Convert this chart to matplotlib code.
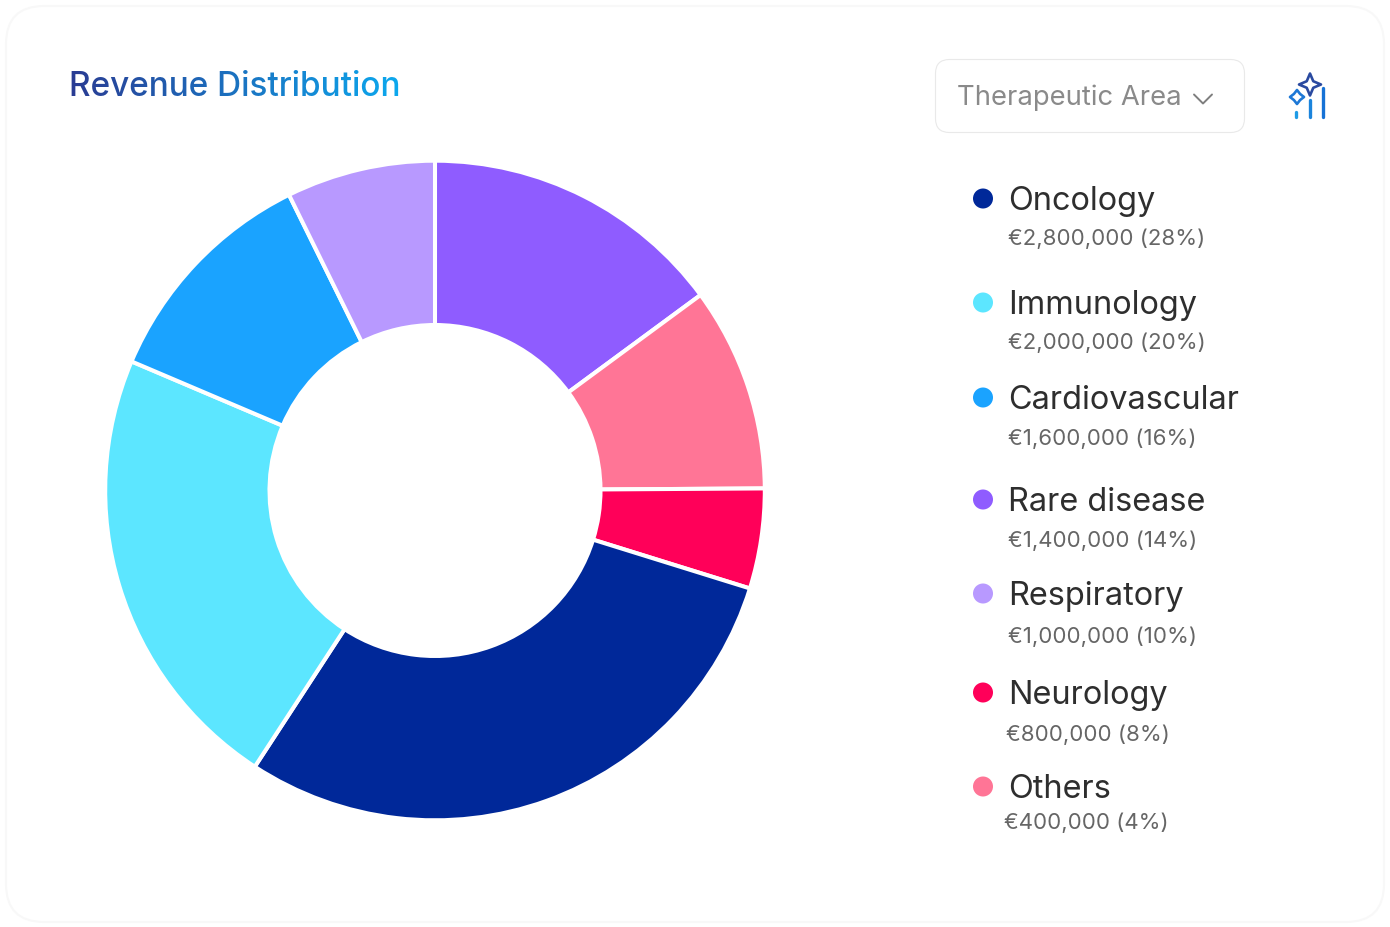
import numpy as np
import matplotlib
matplotlib.use("Agg")
import matplotlib.pyplot as plt
from matplotlib.patches import FancyBboxPatch, Circle, Polygon

plt.rcParams['font.family'] = ['Inter', 'DejaVu Sans']

# Data
categories = ['Oncology', 'Immunology', 'Cardiovascular', 'Rare disease', 'Respiratory', 'Neurology', 'Others']
legend_values = ['€2,800,000 (28%)', '€2,000,000 (20%)', '€1,600,000 (16%)', '€1,400,000 (14%)',
                 '€1,000,000 (10%)', '€800,000 (8%)', '€400,000 (4%)']
colors = ['#002899', '#5CE6FF', '#1AA3FF', '#8F5CFF', '#B899FF', '#FF0059', '#FF7596']
# slice shares as drawn in the picture (clockwise from 12 o'clock)
slice_order = ['Rare disease', 'Others', 'Neurology', 'Oncology', 'Immunology', 'Cardiovascular', 'Respiratory']
slice_shares = [14.9, 10.0, 4.9, 29.4, 22.2, 11.3, 7.3]

W, H = 1390, 928
fig = plt.figure(figsize=(W / 100, H / 100), dpi=100, facecolor='white')

bg = fig.add_axes([0, 0, 1, 1])
bg.set_xlim(0, W); bg.set_ylim(H - 1, -1); bg.axis('off')

bg.add_patch(FancyBboxPatch((6, 6), 1378, 916, boxstyle='round,pad=0,rounding_size=38',
                            fc='white', ec='#F8F8F8', lw=1.5))

# Title with gradient, kept as one text
def gradient_filter(img, dpi):
    out = img.copy()
    c0 = np.array([0x2A, 0x3C, 0x93]) / 255
    c1 = np.array([0x0C, 0xA8, 0xEE]) / 255
    t = np.linspace(0, 1, img.shape[1])[:, None]
    grad = c0 * (1 - t) + c1 * t
    out[..., :3] = grad[None, :, :]
    return out, 0, 0

title = bg.text(69, 85.5, 'Revenue Distribution', fontsize=24, fontweight='medium',
                va='center', ha='left', color='black')
title.set_agg_filter(gradient_filter)

# Dropdown
bg.add_patch(FancyBboxPatch((935.5, 59.5), 309, 73, boxstyle='round,pad=0,rounding_size=14',
                            fc='white', ec='#E9E9E9', lw=0.8))
bg.text(957, 97, 'Therapeutic Area', fontsize=19.75, color='#8A8A8A', va='center', ha='left')
bg.plot([1194, 1203, 1212], [94.5, 103.5, 94.5], color='#7F7F7F', lw=1.4, solid_capstyle='round',
        solid_joinstyle='round')

# Icon
for x, y0, y1, col in [(1296, 112, 117, '#1E9BE6'), (1310, 100, 117, '#1B84DC'), (1323, 88, 117, '#1672D6')]:
    bg.plot([x, x], [y0, y1], color=col, lw=2.4, solid_capstyle='round')

def star(cx, cy, r, col, lw, pinch=0.28):
    pts = []
    for i in range(8):
        a = np.pi / 4 * i
        rr = r if i % 2 == 0 else r * pinch
        pts.append((cx + rr * np.cos(a), cy + rr * np.sin(a)))
    bg.add_patch(Polygon(pts, closed=True, fc='none', ec=col, lw=lw, joinstyle='round'))

star(1310, 84.5, 11, '#2A4AA0', 1.9, pinch=0.42)
star(1297, 97, 7, '#1E78D6', 1.9, pinch=0.62)

# Donut
cx, cy, R, r_in = 435, 491.5, 329.8, 165.5
ax = fig.add_axes([(cx - R) / W, 1 - (cy + R) / H, 2 * R / W, 2 * R / H])
color_of = dict(zip(categories, colors))
ax.pie(slice_shares, colors=[color_of[c] for c in slice_order], startangle=90, counterclock=False,
       radius=1, normalize=True,
       wedgeprops=dict(width=(R - r_in) / R, edgecolor='white', linewidth=2.9))
ax.set_xlim(-1, 1); ax.set_ylim(-1, 1); ax.set_aspect('equal'); ax.axis('off')

# Legend
name_y = [199, 303, 398, 500, 594, 693, 787]
sub_y = [237, 341, 437, 539, 635, 733, 821]
sub_x = [1008, 1008, 1008, 1008, 1008, 1006, 1004]
for cat, val, col, ny, sy, sx in zip(categories, legend_values, colors, name_y, sub_y, sub_x):
    bg.add_patch(Circle((983, ny - 0.5), 10, fc=col, ec='none'))
    bg.text(1008.5, ny + 1.5, cat, fontsize=23.4, color='#2E2E2E', va='center', ha='left')
    bg.text(sx, sy + 0.5, val, fontsize=16, color='#666666', va='center', ha='left')

fig.savefig('out.png', dpi=100, facecolor='white')
